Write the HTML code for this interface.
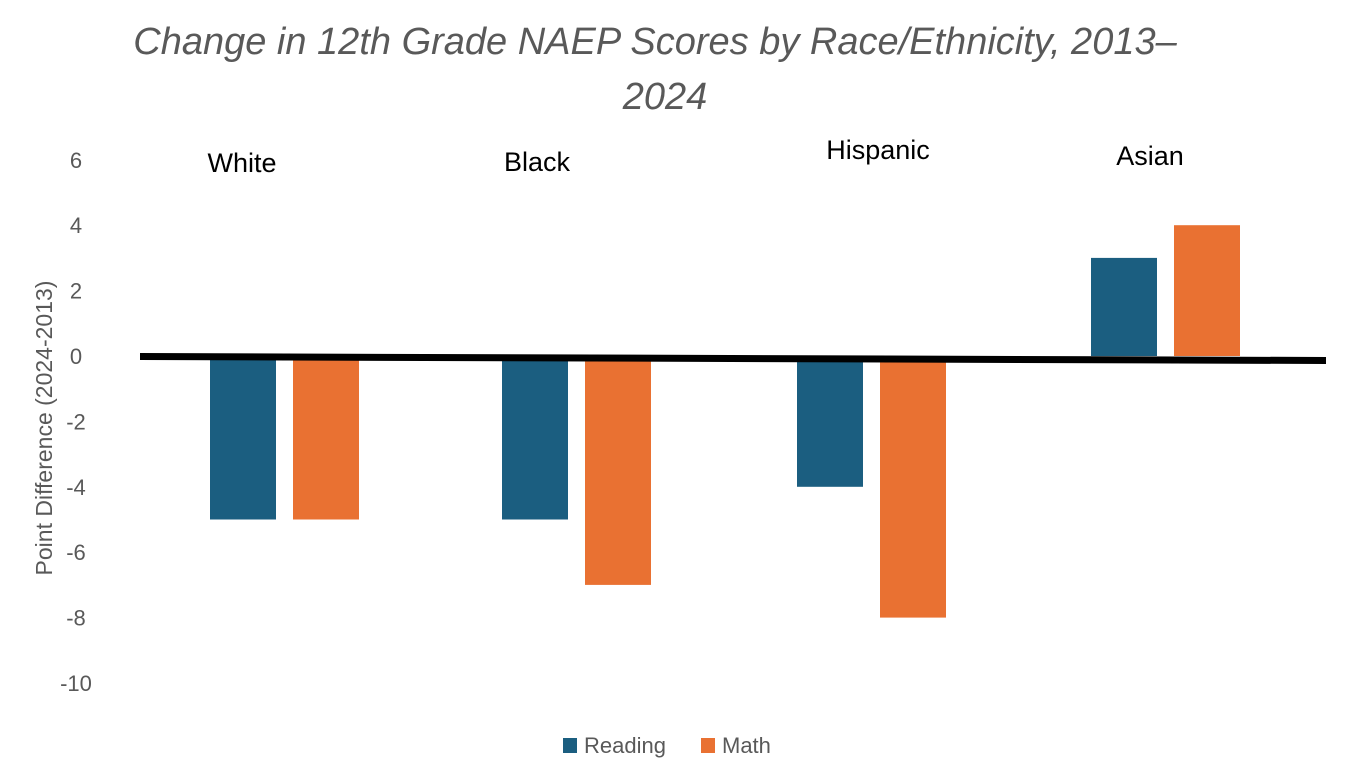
<!DOCTYPE html>
<html><head><meta charset="utf-8">
<style>
body{margin:0;background:#fff;}
svg{display:block;font-family:"Liberation Sans",sans-serif;}
</style></head>
<body>
<svg id="chart" width="1346" height="778">
<text x="655" y="54" text-anchor="middle" font-size="38" font-style="italic" fill="#595959">Change in 12th Grade NAEP Scores by Race/Ethnicity, 2013–</text>
<text x="665" y="109" text-anchor="middle" font-size="38" font-style="italic" fill="#595959">2024</text>
<text transform="translate(52,428) rotate(-90)" text-anchor="middle" font-size="23" fill="#595959">Point Difference (2024-2013)</text>
<g id="yticks"></g>
<g id="bars"></g>
<g id="cats"></g>
<polygon points="140,353 1326,357 1326,364 140,360" fill="#000"/>
<rect x="563" y="738" width="14" height="15" fill="#1b5e80"/>
<text x="584" y="753" font-size="22" fill="#595959">Reading</text>
<rect x="701" y="738" width="14" height="15" fill="#e97132"/>
<text x="722" y="753" font-size="22" fill="#595959">Math</text>
</svg>
<script>
const categories=["White","Black","Hispanic","Asian"];
const reading=[-5,-5,-4,3];
const math=[-5,-7,-8,4];
const yTicks=[6,4,2,0,-2,-4,-6,-8,-10];
const catLabelOffsets=[7,6,-6,0];
const NS="http://www.w3.org/2000/svg";
function y(v){return 356-v*32.7;}
const groupStart=[210,502,797,1091];
const labelX=[242,537,878,1150];
const barW=66, gap=17;
function mk(tag,attrs,parent){const e=document.createElementNS(NS,tag);for(const k in attrs)e.setAttribute(k,attrs[k]);parent.appendChild(e);return e;}
const yt=document.getElementById('yticks');
yTicks.forEach(t=>{const e=mk('text',{x:76,y:y(t)+8,'text-anchor':'middle','font-size':22,fill:'#595959'},yt);e.textContent=t;

});
const bg=document.getElementById('bars');
categories.forEach((c,i)=>{
 const x0=groupStart[i];
 [[reading[i],'#1b5e80',0,'reading'],[math[i],'#e97132',barW+gap,'math']].forEach(([v,col,off,s])=>{
  const y0=v<0?358:y(v), h=v<0?y(v)-358:356-y(v);
  const r=mk('rect',{x:x0+off,y:y0,width:barW,height:h,fill:col},bg);
  
  
 });
 const t=mk('text',{x:labelX[i],y:172+catLabelOffsets[i]-7,'text-anchor':'middle','font-size':27,fill:'#000'},document.getElementById('cats'));
 t.textContent=c;
 
 
});
</script>
</body></html>
